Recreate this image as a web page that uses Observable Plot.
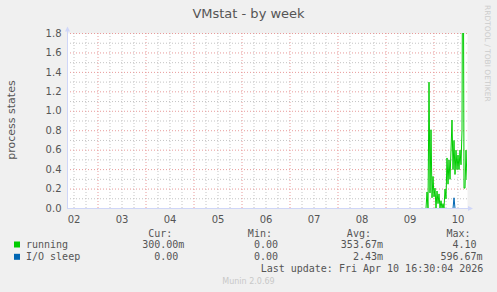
<!DOCTYPE html>
<html><head><meta charset="utf-8">
<script src="https://cdn.jsdelivr.net/npm/d3@7"></script>
<script src="https://cdn.jsdelivr.net/npm/@observablehq/plot@0.6"></script>
<style>
html,body{margin:0;padding:0;background:#f0f0f0;overflow:hidden;}
#chart{position:relative;width:497px;height:292px;}
#chart svg{position:absolute;left:0;top:0;}
</style></head><body><div id="chart"></div>
<script>
(function () {
// ---- data ----
const chartTitle = "VMstat - by week";
const yLabel = "process states";
const seriesStart = Date.UTC(2026, 3, 9, 20, 0); // first sample, 30-min steps
const stepMinutes = 30;
const running = [0, 0.17, 0.0, 1.30, 0.16, 0.81, 0.11, 0.33, 0.12, 0.21, 0.0, 0.18, 0.05, 0.15, 0.0, 0.08,
  0.0, 0.05, 0.0, 0.2, 0.1, 0.52, 0.25, 0.5, 0.3, 0.6, 0.91, 0.4, 0.7, 0.35, 0.6, 0.4, 0.55, 0.4, 0.6, 0.45,
  0.8, 4.1, 0.21, 0.21, 0.6, 0.3];
const ioSleep = [0, 0, 0, 0, 0, 0, 0, 0, 0, 0, 0, 0, 0, 0, 0, 0, 0, 0, 0, 0, 0, 0, 0, 0, 0, 0, 0, 0,
  0.11, 0, 0, 0, 0, 0, 0, 0, 0, 0, 0, 0, 0, 0];
const seriesNames = ["running", "I/O sleep"];
const seriesColors = ["#00cc00", "#0066b3"];
const legendHeaders = ["Cur:", "Min:", "Avg:", "Max:"];
const curValues = ["300.00m", "0.00 "];
const minValues = ["0.00 ", "0.00 "];
const avgValues = ["353.67m", "2.43m"];
const maxValues = ["4.10 ", "596.67m"];
const lastUpdate = "Last update: Fri Apr 10 16:30:04 2026";
const versionText = "Munin 2.0.69";
const watermark = "RRDTOOL / TOBI OETIKER";
const dayLabels = ["02", "03", "04", "05", "06", "07", "08", "09", "10"];
const yTicks = [0, 0.2, 0.4, 0.6, 0.8, 1.0, 1.2, 1.4, 1.6, 1.8];
const yMinor = [0.1, 0.3, 0.5, 0.7, 0.9, 1.1, 1.3, 1.5, 1.7];
const xStart = new Date(Date.UTC(2026, 3, 2, 8, 45));
const xEnd = new Date(Date.UTC(2026, 3, 10, 16, 45));

// ---- build ----
const rows = [];
running.forEach((v, i) => rows.push({t: new Date(seriesStart + i * stepMinutes * 60000), v, s: seriesNames[0]}));
ioSleep.forEach((v, i) => rows.push({t: new Date(seriesStart + i * stepMinutes * 60000), v, s: seriesNames[1]}));
const dayTicks = dayLabels.map(d => new Date(Date.UTC(2026, 3, +d, 12)));
const majorX = d3.utcDay.range(xStart, xEnd).filter(d => d > xStart);
const minorX = d3.utcHour.every(6).range(xStart, xEnd).filter(d => d.getUTCHours() !== 0);
const minorGrid = "#c4c4c4", majorGrid = "#e89a9a";

const chart = Plot.plot({
  width: 497, height: 292,
  marginTop: 33, marginLeft: 67, marginRight: 30, marginBottom: 84,
  style: "background:#f0f0f0;font-family:'DejaVu Sans';font-size:10px;color:#555;overflow:visible;",
  x: {type: "utc", domain: [xStart, xEnd], ticks: dayTicks, tickFormat: d3.utcFormat("%d"), tickSize: 0, tickPadding: 7, label: null},
  y: {domain: [0, 1.8], ticks: yTicks, tickFormat: d3.format(".1f"), tickSize: 0, tickPadding: 6, label: null},
  color: {domain: seriesNames, range: seriesColors},
  marks: [
    Plot.frame({fill: "white", stroke: "none"}),
    Plot.ruleY(yMinor, {y: d => d, stroke: minorGrid, strokeWidth: 1, strokeDasharray: "1,2"}),
    Plot.ruleX(minorX, {x: d => d, stroke: minorGrid, strokeWidth: 1, strokeDasharray: "1,2"}),
    Plot.ruleY(yTicks.slice(1), {y: d => d, stroke: majorGrid, strokeWidth: 1, strokeDasharray: "1,2"}),
    Plot.ruleX(majorX, {x: d => d, stroke: majorGrid, strokeWidth: 1, strokeDasharray: "1,2"}),
    Plot.line(rows, {x: "t", y: "v", z: "s", stroke: "s", strokeWidth: 1, clip: true})
  ]
});
document.getElementById("chart").appendChild(chart);

// ---- decorations: axis arrows, title, legend ----
const svg = d3.select(chart);
const sx = chart.scale("x"), sy = chart.scale("y");
const pLeft = sx.range[0], pRight = sx.range[1];
const pBottom = sy.range[0], pTop = sy.range[1];
const axisColor = "#cfd6f8";
const g = svg.append("g");
g.append("line").attr("x1", pLeft + 0.5).attr("x2", pLeft + 0.5).attr("y1", pBottom).attr("y2", pTop - 2).attr("stroke", axisColor);
g.append("line").attr("x1", pLeft).attr("x2", pRight + 2).attr("y1", pBottom + 0.5).attr("y2", pBottom + 0.5).attr("stroke", axisColor);
g.append("path").attr("d", `M${pLeft - 2},${pTop - 1.5}L${pLeft + 3},${pTop - 1.5}L${pLeft + 0.5},${pTop - 6.5}Z`).attr("fill", axisColor);
g.append("path").attr("d", `M${pRight + 1},${pBottom - 2}L${pRight + 1},${pBottom + 3}L${pRight + 6},${pBottom + 0.5}Z`).attr("fill", axisColor);

const t = svg.append("g").attr("text-anchor", "start");
t.append("text").attr("x", 248.5).attr("y", 17.8).attr("text-anchor", "middle")
  .attr("font-size", 13).attr("fill", "#555").text(chartTitle);
t.append("text").attr("transform", "translate(14.5,120) rotate(-90)").attr("text-anchor", "middle")
  .attr("font-size", 11).attr("fill", "#555").text(yLabel);
t.append("text").attr("transform", "translate(485,5) rotate(90)").attr("text-anchor", "start")
  .attr("font-size", 7.5).attr("fill", "#cccccc").text(watermark);

const mono = "'DejaVu Sans Mono', monospace";
const colEnds = [184.4, 284, 383, 482.6];
const charW = 6.02;
legendHeaders.forEach((h, j) => {
  t.append("text").attr("x", colEnds[j] - 2 * charW).attr("y", 236.8).attr("text-anchor", "end")
    .attr("font-family", mono).attr("font-size", 10).attr("fill", "#555").text(h);
});
const rowY = [248, 260.3];
seriesNames.forEach((name, i) => {
  t.append("rect").attr("x", 14).attr("y", rowY[i] - 6.5).attr("width", 6).attr("height", 6).attr("fill", seriesColors[i]);
  t.append("text").attr("x", 26).attr("y", rowY[i]).attr("text-anchor", "start")
    .attr("font-family", mono).attr("font-size", 10).attr("fill", "#555").text(name);
  [curValues, minValues, avgValues, maxValues].forEach((arr, j) => {
    t.append("text").attr("x", colEnds[j]).attr("y", rowY[i]).attr("text-anchor", "end")
      .attr("xml:space", "preserve").style("white-space", "pre")
      .attr("font-family", mono).attr("font-size", 10).attr("fill", "#555").text(arr[i]);
  });
});
t.append("text").attr("x", 483.4).attr("y", 272.3).attr("text-anchor", "end")
  .attr("font-family", mono).attr("font-size", 10).attr("fill", "#555").text(lastUpdate);
t.append("text").attr("x", 248.5).attr("y", 284).attr("text-anchor", "middle")
  .attr("font-size", 8).attr("fill", "#c8c8c8").text(versionText);
})();
</script></body></html>
